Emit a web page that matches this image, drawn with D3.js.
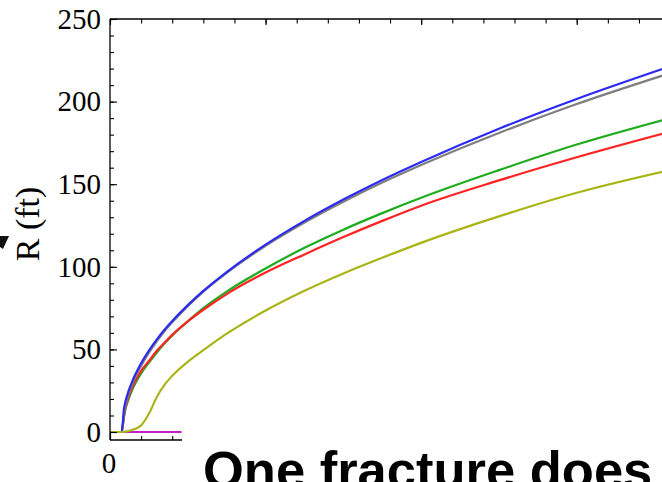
<!DOCTYPE html>
<html>
<head>
<meta charset="utf-8">
<script src="https://cdn.jsdelivr.net/npm/d3@7"></script>
<style>
  body { margin: 0; background: #fff; }
  svg { display: block; }
</style>
</head>
<body>
<div id="chart"></div>
<script>
// time samples (x axis, one major tick = 1 unit)
const tValues = [0, 0.05, 0.075, 0.09, 0.1, 0.12, 0.15, 0.2, 0.25, 0.3, 0.35, 0.4, 0.5, 0.6, 0.75, 1.0, 1.25, 1.5, 1.75, 2.0, 2.5, 3.0, 3.55];

// fracture radius R (ft) for each case
const rBlue  = [0, 0, 0, 14.3, 18.7, 25, 32.2, 41.6, 49.3, 55.9, 61.9, 67.2, 76.8, 85.4, 96.8, 113.4, 127.8, 140.7, 152.6, 163.5, 183.6, 201.6, 219.7];
const rGray  = [0, 0, 0, 11, 16, 23, 30.5, 40, 48, 54.8, 61, 66.4, 76.2, 85, 96.3, 112.7, 126.8, 139.4, 151, 161.6, 181, 198.5, 215.7];
const rRed   = [0, 0, 0, 10, 15, 21.5, 28.5, 37, 43, 49, 54, 58.8, 67, 74, 83.5, 96.5, 107.5, 118, 127.8, 137, 152.3, 166.3, 180.5];
const rGreen = [0, 0, 0, 9, 14, 20, 27, 35.5, 42, 48, 53.5, 58.5, 67, 75, 85, 99, 111.5, 122.5, 132.5, 141.8, 158.5, 174, 188.7];
const rOlive = [0, 0, 0, 0.1, 0.3, 0.6, 1.5, 4, 11, 21, 28.5, 34, 42.5, 49.5, 59.5, 73.5, 85.5, 96, 105.5, 114.5, 130.5, 144.8, 157.5];

// the one case that never grows
const tMagenta = [0, 0.46];
const rMagenta = [0, 0];

const series = [
  { name: "magenta", t: tMagenta, r: rMagenta, color: "#c61ec6" },
  { name: "green",   t: tValues,  r: rGreen,   color: "#1eac1e" },
  { name: "red",     t: tValues,  r: rRed,     color: "#ff2323" },
  { name: "gray",    t: tValues,  r: rGray,    color: "#7f7f7f" },
  { name: "blue",    t: tValues,  r: rBlue,    color: "#2b2bf5" },
  { name: "olive",   t: tValues,  r: rOlive,   color: "#a9b417" }
];

const yMajor = [0, 50, 100, 150, 200, 250];
const yMinor = d3.range(0, 251, 10);
const xMajor = [0, 1, 2, 3];
const xMinor = d3.range(0, 3.55, 0.2);

const width = 662, height = 482;
const plotLeft = 110, plotTop = 19, zeroY = 432, frameBottom = 440;

const svg = d3.select("#chart").append("svg")
  .attr("width", width)
  .attr("height", height);

svg.append("rect").attr("width", width).attr("height", height).attr("fill", "#fff");

const x = d3.scaleLinear().domain([0, 3.548]).range([plotLeft, width]);
const y = d3.scaleLinear().domain([0, 250]).range([zeroY, plotTop]);

// curves
const line = d3.line()
  .x(d => x(d[0]))
  .y(d => y(d[1]))
  .curve(d3.curveMonotoneX);

svg.append("g").selectAll("path")
  .data(series)
  .enter()
  .append("path")
  .attr("d", s => line(s.t.map((t, i) => [t, s.r[i]])))
  .attr("fill", "none")
  .attr("stroke", s => s.color)
  .attr("stroke-width", 2.2);

// frame lines
svg.append("line").attr("x1", plotLeft).attr("x2", plotLeft).attr("y1", plotTop).attr("y2", frameBottom)
  .attr("stroke", "#000").attr("stroke-width", 1.3);
svg.append("line").attr("x1", plotLeft).attr("x2", width).attr("y1", plotTop).attr("y2", plotTop)
  .attr("stroke", "#000").attr("stroke-width", 1.3);
svg.append("line").attr("x1", plotLeft).attr("x2", width).attr("y1", frameBottom).attr("y2", frameBottom)
  .attr("stroke", "#000").attr("stroke-width", 1.3);

function styleAxis(g) {
  g.select(".domain").remove();
  g.selectAll("line").attr("stroke", "#000").attr("stroke-width", 1.1);
  g.attr("font-family", "'Liberation Serif', 'Times New Roman', serif")
    .attr("font-size", 29);
  g.selectAll("text").attr("fill", "#000");
}

// left axis, ticks inside
svg.append("g")
  .attr("transform", `translate(${plotLeft},0)`)
  .call(d3.axisLeft(y).tickValues(yMinor).tickSize(-4).tickFormat(""))
  .call(styleAxis);
svg.append("g")
  .attr("transform", `translate(${plotLeft},0)`)
  .call(d3.axisLeft(y).tickValues(yMajor).tickSize(-7).tickPadding(9).tickFormat(d3.format("d")))
  .call(styleAxis);

// top axis, ticks inside, no labels
svg.append("g")
  .attr("transform", `translate(0,${plotTop})`)
  .call(d3.axisTop(x).tickValues(xMinor).tickSize(-4.5).tickFormat(""))
  .call(styleAxis);
svg.append("g")
  .attr("transform", `translate(0,${plotTop})`)
  .call(d3.axisTop(x).tickValues(xMajor).tickSize(-6).tickFormat(""))
  .call(styleAxis);

// bottom axis (only the "0" label is left visible by the caption box)
svg.append("g")
  .attr("transform", `translate(0,${frameBottom})`)
  .call(d3.axisBottom(x).tickValues(xMinor).tickSize(-4).tickFormat(""))
  .call(styleAxis);
svg.append("g")
  .attr("transform", `translate(0,${frameBottom})`)
  .call(d3.axisBottom(x).tickValues(xMajor).tickSize(-7).tickPadding(12)
    .tickFormat(d => d === 0 ? "0" : ""))
  .call(styleAxis)
  .selectAll("text").attr("dx", -1.5);

// y label
svg.append("text")
  .attr("transform", "translate(39,224) rotate(-90)")
  .attr("text-anchor", "middle")
  .attr("font-family", "'Liberation Serif', 'Times New Roman', serif")
  .attr("font-size", 34)
  .attr("fill", "#000")
  .text("R (ft)");

// fragment of a cut-off glyph at the left edge
svg.append("path")
  .attr("d", "M0,236 L9,236 L3,249 L0,247 Z")
  .attr("fill", "#111");

// white caption box covering the lower axis
svg.append("rect")
  .attr("x", 182).attr("y", 428)
  .attr("width", width - 182).attr("height", height - 428)
  .attr("fill", "#fff");

svg.append("text")
  .attr("x", 203)
  .attr("y", 488)
  .attr("font-family", "'Liberation Sans', Arial, sans-serif")
  .attr("font-weight", "bold")
  .attr("font-size", 52.5)
  .attr("fill", "#000")
  .text("One fracture does");
</script>
</body>
</html>
